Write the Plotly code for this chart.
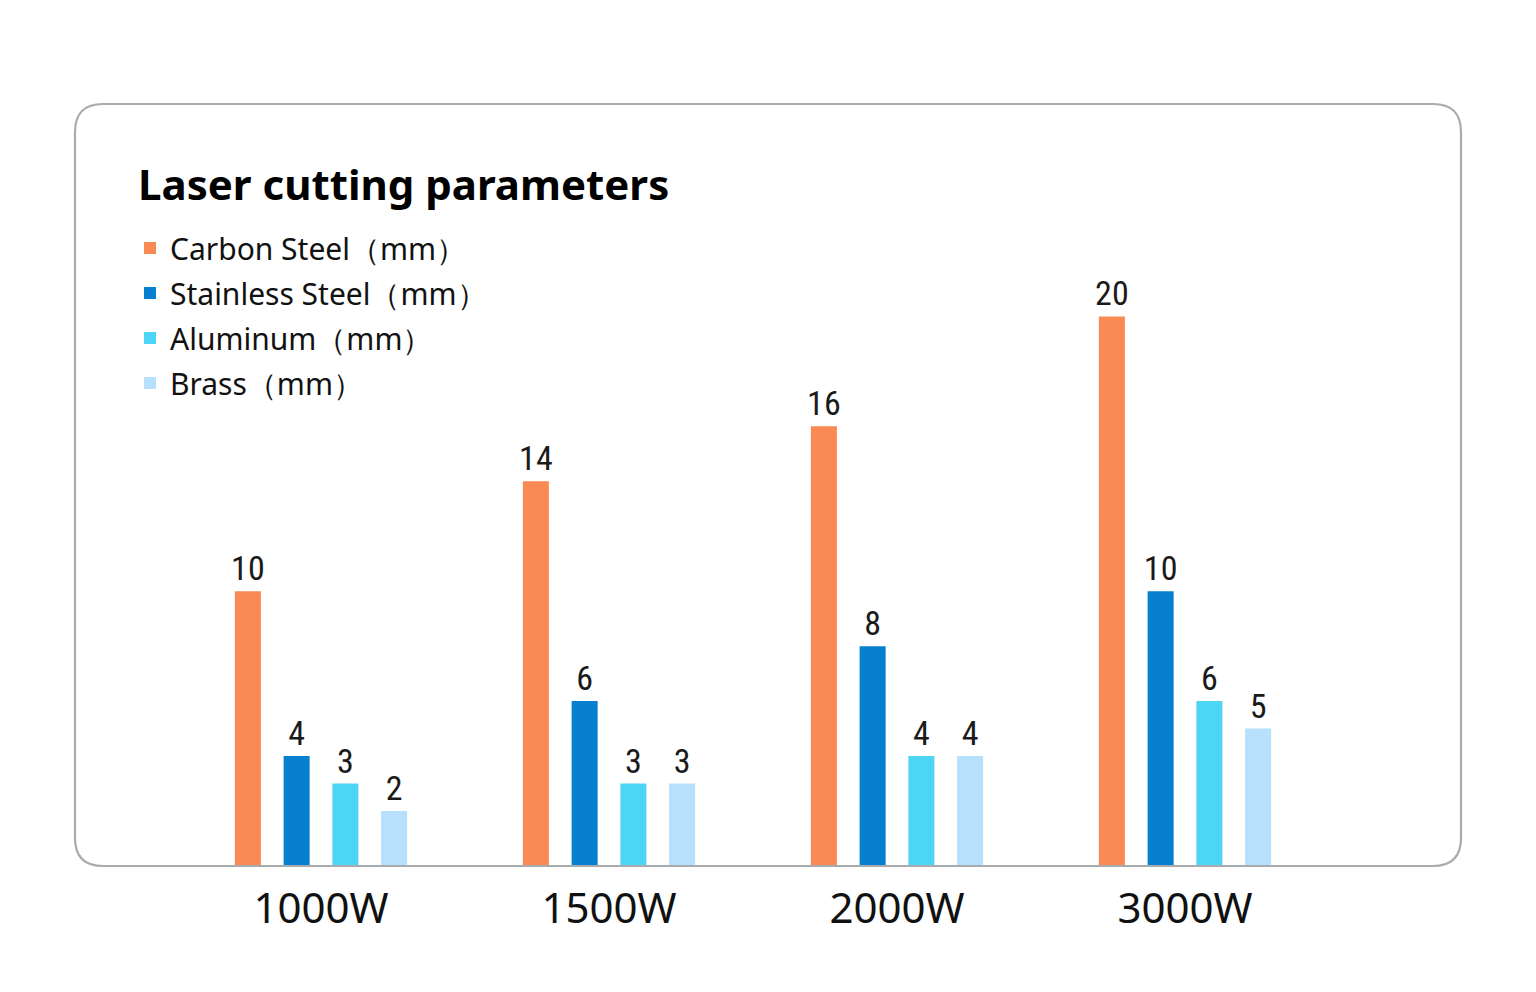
import plotly.graph_objects as go

categories = ["1000W", "1500W", "2000W", "3000W"]
series_names = ["Carbon Steel（mm）", "Stainless Steel（mm）", "Aluminum（mm）", "Brass（mm）"]
carbon_steel = [10, 14, 16, 20]
stainless_steel = [4, 6, 8, 10]
aluminum = [3, 3, 4, 6]
brass = [2, 3, 4, 5]
colors = ["#FA8A53", "#0780D0", "#4DD5F5", "#B6E0FB"]
title_text = "Laser cutting parameters"

W, H = 1536, 992
OFF = 8  # page offset of the figure
L, T = 177 - OFF, 179 - OFF
PW, PH = 1152, 687
R = W - L - PW
B = H - T - PH

def px_x(x):
    return (x - OFF - L) / PW

def px_y(y):
    return (T + PH - (y - OFF)) / PH

fig = go.Figure()
for name, vals, col in zip(series_names, [carbon_steel, stainless_steel, aluminum, brass], colors):
    fig.add_trace(go.Bar(
        x=categories, y=vals, name=name, marker=dict(color=col, line=dict(width=0)),
        text=[str(v) for v in vals], textposition="outside", cliponaxis=False,
        constraintext="none",
        textfont=dict(family="Liberation Sans Narrow, Roboto Condensed, Roboto", size=34, color="#1a1a1a"),
        legendgroup=name,
    ))

# rounded border
x0, x1 = px_x(75), px_x(1461)
y0, y1 = px_y(866), px_y(104)
rx, ry = 28 / PW, 28 / PH
path = (f"M {x0+rx},{y1} L {x1-rx},{y1} Q {x1},{y1} {x1},{y1-ry} "
        f"L {x1},{y0+ry} Q {x1},{y0} {x1-rx},{y0} L {x0+rx},{y0} "
        f"Q {x0},{y0} {x0},{y0+ry} L {x0},{y1-ry} Q {x0},{y1} {x0+rx},{y1} Z")
fig.add_shape(type="path", path=path, xref="paper", yref="paper",
              line=dict(color="#A9ACAF", width=2.2), layer="above")

fig.add_annotation(text=f"<b>{title_text}</b>", x=px_x(136), y=px_y(183), xref="paper", yref="paper",
                   xanchor="left", yanchor="middle", showarrow=False,
                   font=dict(family="Noto Sans", size=42, color="#000000"))

fig.update_layout(
    width=W, height=H,
    margin=dict(l=L, r=R, t=T, b=B),
    paper_bgcolor="white", plot_bgcolor="white",
    barmode="group", bargap=0.323, bargroupgap=0.466,
    showlegend=True,
    legend=dict(x=px_x(130), y=px_y(222), xanchor="left", yanchor="top",
                font=dict(family="Noto Sans", size=30, color="#111111"),
                tracegroupgap=3, bgcolor="rgba(0,0,0,0)"),
    xaxis=dict(range=[-0.5, 3.5], showgrid=False, showline=False, zeroline=False, ticks="",
               tickfont=dict(family="Noto Sans", size=42, color="#111111"), ticklabelstandoff=14),
    yaxis=dict(range=[0, 25], visible=False, showgrid=False, zeroline=False),
)

fig.write_html("out.html")
